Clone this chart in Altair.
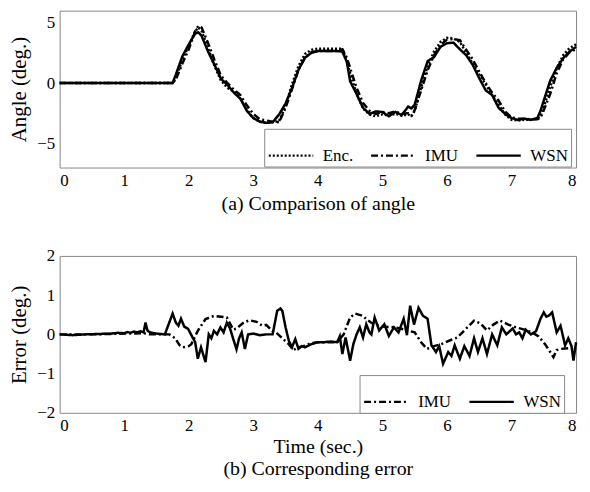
import altair as alt
import pandas as pd

# ---------------- data ----------------
t_ang = [0.0, 0.5, 1.0, 1.5, 1.75, 1.8, 1.9, 2.0, 2.1, 2.15, 2.2, 2.3, 2.4, 2.5, 2.6, 2.7, 2.8, 2.9,
         3.0, 3.1, 3.2, 3.3, 3.4, 3.5, 3.6, 3.7, 3.8, 3.9, 4.0, 4.1, 4.2, 4.3, 4.38, 4.45, 4.5, 4.6,
         4.7, 4.8, 4.9, 5.0, 5.1, 5.2, 5.3, 5.4, 5.45, 5.5, 5.6, 5.7, 5.8, 5.9, 6.0, 6.1, 6.2, 6.3,
         6.4, 6.5, 6.6, 6.7, 6.8, 6.9, 7.0, 7.1, 7.2, 7.3, 7.4, 7.45, 7.5, 7.6, 7.7, 7.8, 7.9, 8.0]
ang_enc = [0, 0, 0, 0, 0, 0.4, 1.9, 3.1, 4.3, 4.6, 4.3, 2.9, 1.4, 0.2, -0.4, -0.7, -1.3, -2.2,
           -2.9, -3.2, -3.3, -3.25, -3.15, -1.9, -0.1, 1.4, 2.4, 2.75, 2.85, 2.85, 2.85, 2.85, 2.85, 1.8, 0.8, -0.9,
           -2.1, -2.6, -2.75, -2.6, -2.7, -2.55, -2.7, -2.6, -2.75, -2.3, -0.4, 1.4, 2.6, 3.4, 3.75, 3.7, 3.4, 2.5,
           1.6, 0.7, -0.1, -1.0, -1.8, -2.6, -3.05, -3.1, -3.05, -3.05, -2.95, -2.7, -2.0, -0.3, 1.2, 2.3, 2.9, 3.2]
ang_imu = [0, 0, 0, 0, 0, 0.3, 1.6, 2.8, 4.3, 4.75, 4.6, 3.3, 1.9, 0.6, 0.0, -0.55, -1.0, -1.85,
           -2.55, -3.0, -3.1, -3.2, -3.25, -2.05, -0.5, 1.1, 2.1, 2.55, 2.65, 2.65, 2.65, 2.65, 2.8, 2.1, 1.25, -0.4,
           -1.65, -2.3, -2.55, -2.4, -2.5, -2.35, -2.55, -2.5, -2.7, -2.25, -0.6, 1.05, 2.3, 3.15, 3.6, 3.65, 3.55, 2.75,
           1.95, 0.95, 0.0, -0.8, -1.45, -2.35, -2.85, -2.95, -2.95, -3.0, -3.0, -2.9, -2.25, -0.9, 0.8, 1.95, 2.55, 2.8]
ang_wsn = [0, 0, 0, 0, 0, 0.7, 2.2, 3.2, 4.1, 4.2, 3.9, 2.6, 1.5, 0.35, -0.15, -0.8, -1.3, -2.3,
           -2.9, -3.2, -3.3, -3.25, -2.6, -1.7, -0.4, 1.1, 2.1, 2.5, 2.65, 2.65, 2.65, 2.65, 2.6, 1.75, 0.15, -0.9,
           -2.05, -2.55, -2.35, -2.4, -2.75, -2.4, -2.65, -1.95, -2.1, -1.8, 0.2, 1.8, 2.15, 3.0, 3.3, 3.35, 2.8, 2.3,
           1.5, 0.4, -0.6, -1.0, -2.05, -2.55, -2.9, -3.05, -2.95, -3.05, -2.9, -2.3, -1.45, 0.2, 1.25, 2.05, 2.6, 3.0]

t_err_imu = [0.0, 0.5, 1.0, 1.3, 1.4, 1.65, 1.7, 1.79, 1.86, 1.91, 2.0, 2.04, 2.14, 2.26, 2.39, 2.5, 2.59,
             2.69, 2.74, 2.85, 2.94, 3.05, 3.14, 3.2, 3.3, 3.35, 3.45, 3.55, 3.62, 3.7, 3.8, 3.9, 4.0, 4.3,
             4.4, 4.5, 4.58, 4.7, 4.75, 4.86, 5.0, 5.2, 5.35, 5.5, 5.6, 5.69, 5.8, 5.91, 6.05, 6.16, 6.3,
             6.42, 6.52, 6.62, 6.72, 6.82, 6.95, 7.07, 7.2, 7.32, 7.42, 7.52, 7.6, 7.65, 7.7, 7.77, 7.9, 8.0]
err_imu = [0.0, 0.0, 0.02, 0.03, 0.0, 0.0, 0.0, -0.1, -0.28, -0.33, -0.3, -0.25, 0.09, 0.39, 0.47, 0.45, 0.43,
           0.12, 0.15, 0.3, 0.36, 0.32, 0.22, 0.24, 0.08, 0.05, -0.1, -0.25, -0.4, -0.33, -0.29, -0.22, -0.2, -0.2,
           0.0, 0.43, 0.53, 0.47, 0.39, 0.26, 0.2, 0.18, 0.12, 0.05, -0.2, -0.37, -0.3, -0.25, -0.15, -0.08, 0.15,
           0.35, 0.28, 0.1, 0.25, 0.35, 0.25, 0.18, 0.12, 0.05, -0.05, -0.25, -0.45, -0.58, -0.4, -0.37, -0.35, -0.4]

t_err_wsn = [0.0, 0.2, 0.4, 0.6, 0.8, 0.9, 1.0, 1.05, 1.1, 1.15, 1.2, 1.25, 1.3, 1.33, 1.36, 1.4, 1.5, 1.63,
             1.75, 1.8, 1.84, 1.88, 1.93, 1.99, 2.06, 2.1, 2.14, 2.19, 2.26, 2.31, 2.35, 2.39, 2.44, 2.49, 2.54,
             2.59, 2.64, 2.69, 2.74, 2.78, 2.82, 2.87, 2.92, 3.0, 3.1, 3.2, 3.3, 3.37, 3.42, 3.45, 3.5, 3.55,
             3.6, 3.65, 3.7, 3.75, 3.8, 3.9, 4.0, 4.1, 4.2, 4.3, 4.34, 4.38, 4.43, 4.5, 4.55, 4.6, 4.65, 4.7,
             4.75, 4.8, 4.83, 4.88, 4.95, 5.03, 5.1, 5.18, 5.25, 5.33, 5.38, 5.43, 5.49, 5.56, 5.63, 5.7, 5.76,
             5.83, 5.88, 5.94, 6.02, 6.07, 6.12, 6.2, 6.27, 6.35, 6.42, 6.48, 6.55, 6.62, 6.7, 6.78, 6.85, 6.92,
             7.02, 7.07, 7.12, 7.17, 7.22, 7.3, 7.38, 7.45, 7.5, 7.54, 7.58, 7.63, 7.7, 7.76, 7.83, 7.88, 7.93,
             7.96, 8.0]
err_wsn = [0.0, -0.02, 0.0, 0.01, 0.02, 0.04, 0.03, 0.06, 0.04, 0.07, 0.05, 0.08, 0.05, 0.3, 0.1, 0.05, 0.02, 0.0,
           0.53, 0.3, 0.22, 0.4, 0.2, 0.14, -0.08, -0.2, -0.62, -0.33, -0.71, 0.0, -0.1, 0.09, 0.0, 0.18, 0.05,
           0.3, 0.15, -0.12, -0.38, -0.1, 0.05, -0.37, 0.0, 0.02, -0.02, 0.0, 0.0, 0.6, 0.66, 0.6, 0.18, -0.16,
           -0.33, -0.12, -0.37, -0.3, -0.33, -0.25, -0.2, -0.2, -0.18, -0.2, -0.05, -0.5, -0.08, -0.67, -0.25, 0.0, 0.18, -0.08,
           0.26, 0.05, 0.0, 0.43, 0.1, 0.26, -0.04, 0.18, 0.05, 0.4, -0.02, 0.73, 0.25, 0.68, 0.47, 0.4, -0.28,
           -0.45, -0.3, -0.75, -0.45, -0.55, -0.28, -0.62, -0.3, -0.55, -0.1, -0.45, -0.1, -0.5, 0.0, -0.28, 0.18, 0.0,
           0.15, 0.0, 0.05, -0.1, 0.12, 0.0, 0.08, 0.4, 0.56, 0.45, 0.48, 0.56, 0.05, 0.22, -0.28, -0.1, -0.3,
           -0.67, -0.2]

assert len(t_ang) == len(ang_enc) == len(ang_imu) == len(ang_wsn)
assert len(t_err_imu) == len(err_imu)
assert len(t_err_wsn) == len(err_wsn)

rows_a = []
for name, vals in [("Enc.", ang_enc), ("IMU", ang_imu), ("WSN", ang_wsn)]:
    for i, (t, v) in enumerate(zip(t_ang, vals)):
        rows_a.append({"t": t, "v": v, "s": name, "o": i})
df_a = pd.DataFrame(rows_a)

rows_b = []
for name, ts, vals in [("IMU", t_err_imu, err_imu), ("WSN", t_err_wsn, err_wsn)]:
    for i, (t, v) in enumerate(zip(ts, vals)):
        rows_b.append({"t": t, "v": v, "s": name, "o": i})
df_b = pd.DataFrame(rows_b)

FONT = "Liberation Serif"
W, H = 520, 158

dash_enc = [2, 2]
dash_imu = [7, 3, 2, 3]
dash_wsn = [1, 0]

def legend(x, y):
    return alt.Legend(
        title=None, orient="none", legendX=x, legendY=y, direction="horizontal",
        symbolType="stroke", symbolSize=2000, symbolStrokeWidth=2.4,
        symbolStrokeColor="black", labelFont=FONT, labelFontSize=17,
        labelColor="black", labelOffset=8, columnPadding=12, padding=3,
        strokeColor="#888", fillColor="white", labelLimit=0,
    )

x_axis_common = dict(values=list(range(0, 9)), format="d", labelFont=FONT, labelFontSize=17,
                     labelColor="black", labelPadding=5, titleFont=FONT, titleFontSize=20,
                     titleFontWeight="normal", titleColor="black", domain=False, ticks=False, grid=False)
y_axis_common = dict(labelFont=FONT, labelFontSize=17, labelColor="black", labelPadding=5,
                     titleFont=FONT, titleFontSize=21, titleFontWeight="normal", titleColor="black",
                     titlePadding=7, domain=False, ticks=False, grid=False)

top = alt.Chart(df_a).mark_line(color="black", strokeWidth=2.5).encode(
    x=alt.X("t:Q", scale=alt.Scale(domain=[0, 8], nice=False),
            axis=alt.Axis(title="(a) Comparison of angle", titlePadding=5, **x_axis_common)),
    y=alt.Y("v:Q", scale=alt.Scale(domain=[-7, 6], nice=False),
            axis=alt.Axis(values=[-5, 0, 5], title="Angle (deg.)", **y_axis_common)),
    strokeDash=alt.StrokeDash("s:N", scale=alt.Scale(domain=["Enc.", "IMU", "WSN"],
                                                      range=[dash_enc, dash_imu, dash_wsn]),
                              legend=legend(206, 119)),
    order="o:Q",
).properties(width=W, height=H)

bottom = alt.Chart(df_b).mark_line(color="black", strokeWidth=2.5).encode(
    x=alt.X("t:Q", scale=alt.Scale(domain=[0, 8], nice=False),
            axis=alt.Axis(title=["Time (sec.)", "(b) Corresponding error"], titlePadding=3,
                          titleLineHeight=22, **x_axis_common)),
    y=alt.Y("v:Q", scale=alt.Scale(domain=[-2, 2], nice=False),
            axis=alt.Axis(values=[-2, -1, 0, 1, 2], title="Error (deg.)", **y_axis_common)),
    strokeDash=alt.StrokeDash("s:N", scale=alt.Scale(domain=["IMU", "WSN"],
                                                      range=[dash_imu, dash_wsn]),
                              legend=legend(302, 120)),
    order="o:Q",
).properties(width=W, height=H)

chart = alt.vconcat(top, bottom, spacing=89, bounds="flush").resolve_scale(
    strokeDash="independent"
).resolve_legend(strokeDash="independent").properties(
    padding={"left": 0, "top": 0, "right": 0, "bottom": 0},
    background="white",
).configure_view(
    stroke="#888", strokeWidth=1
)

chart.save("out.html", embed_options={"renderer": "svg", "actions": False})
